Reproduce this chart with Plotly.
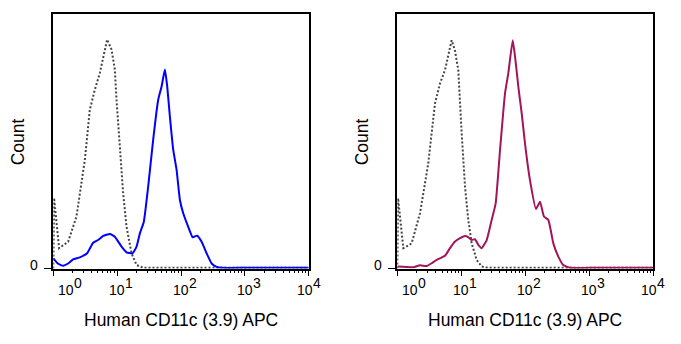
import numpy as np
import plotly.graph_objects as go

# ---- data (x as log10 fluorescence, y as % of max count scale) ----
iso_l_log = [0.0, 0.012, 0.091, 0.232, 0.363, 0.494, 0.572, 0.650, 0.729, 0.781, 0.843,
             0.912, 0.964, 0.990, 1.042, 1.094, 1.147, 1.225, 1.304, 1.408, 2.0, 3.0, 4.0]
iso_l_y = [0.0, 27.7, 8.0, 10.5, 20.4, 42.6, 62.3, 70.1, 76.7, 83.2, 89.8,
           85.9, 78.0, 66.2, 46.6, 29.6, 16.4, 6.0, 1.4, 0.3, 0.3, 0.3, 0.3]

blue_log = [0.0, 0.07, 0.154, 0.232, 0.31, 0.415, 0.53, 0.624, 0.702, 0.781, 0.886, 0.964,
            1.069, 1.147, 1.241, 1.304, 1.356, 1.418, 1.486, 1.564, 1.643, 1.696, 1.748,
            1.784, 1.826, 1.878, 1.931, 1.983, 2.035, 2.113, 2.182, 2.254, 2.323, 2.401,
            2.48, 2.558, 2.65, 3.0, 4.0]
blue_y = [4.0, 2.0, 1.1, 2.0, 3.6, 4.4, 6.0, 10.1, 11.2, 12.8, 13.6, 12.5,
          8.6, 6.4, 6.0, 8.6, 13.8, 18.4, 32.1, 50.5, 66.2, 71.4, 78.0,
          71.4, 59.6, 46.6, 38.7, 26.9, 21.7, 16.4, 12.3, 12.9, 10.5, 6.0,
          2.0, 0.7, 0.3, 0.3, 0.3]

iso_r_log = [0.0, 0.012, 0.094, 0.224, 0.355, 0.484, 0.589, 0.667, 0.745, 0.849, 0.900,
             0.953, 1.006, 1.058, 1.109, 1.162, 1.240, 1.319, 1.42, 2.0, 3.0, 4.0]
iso_r_y = [0.0, 27.6, 8.0, 9.9, 21.7, 41.3, 64.8, 72.6, 77.8, 89.5, 85.6,
           77.8, 53.0, 32.1, 19.1, 9.9, 3.4, 0.8, 0.3, 0.3, 0.3, 0.3]

crim_log = [0.0, 0.25, 0.355, 0.459, 0.537, 0.615, 0.745, 0.823, 0.902, 0.98, 1.058, 1.109,
            1.162, 1.214, 1.266, 1.319, 1.397, 1.475, 1.537, 1.605, 1.683, 1.734, 1.803,
            1.839, 1.891, 1.944, 1.995, 2.073, 2.167, 2.23, 2.292, 2.36, 2.438, 2.516,
            2.594, 2.7, 3.0, 4.0]
crim_y = [0.8, 0.5, 1.3, 1.0, 2.1, 3.4, 5.0, 8.0, 10.6, 11.9, 12.8, 12.3,
          11.2, 11.5, 9.3, 8.0, 11.2, 19.1, 25.6, 46.5, 68.7, 76.5, 89.5,
          83.3, 71.3, 60.8, 49.1, 34.7, 23.4, 26.2, 20.4, 19.1, 9.9, 4.7,
          1.4, 0.3, 0.3, 0.3]

decades = [0, 1, 2, 3, 4]
x_title = "Human CD11c (3.9) APC"
y_title = "Count"

FONT = "Liberation Sans, Arial, sans-serif"
ISO_COLOR = "#444444"
BLUE = "#0000ff"
CRIMSON = "#a3145a"

fig = go.Figure()

def lin(v):
    return list(np.power(10.0, np.array(v)))

fig.add_trace(go.Scatter(x=lin(iso_l_log), y=iso_l_y, mode="lines", xaxis="x", yaxis="y",
                         line=dict(color=ISO_COLOR, width=2, dash="2px,2px"), showlegend=False))
fig.add_trace(go.Scatter(x=lin(blue_log), y=blue_y, mode="lines", xaxis="x", yaxis="y",
                         line=dict(color=BLUE, width=2, shape="spline", smoothing=0.4), showlegend=False))
fig.add_trace(go.Scatter(x=lin(iso_r_log), y=iso_r_y, mode="lines", xaxis="x2", yaxis="y2",
                         line=dict(color=ISO_COLOR, width=2, dash="2px,2px"), showlegend=False))
fig.add_trace(go.Scatter(x=lin(crim_log), y=crim_y, mode="lines", xaxis="x2", yaxis="y2",
                         line=dict(color=CRIMSON, width=2, shape="spline", smoothing=0.4), showlegend=False))

minor_vals = [m * 10 ** k for k in range(0, 4) for m in range(2, 10)]

xdom = {"x": [53.3 / 681, 308.7 / 681], "x2": [397.3 / 681, 653.3 / 681]}
ydom = [(344 - 268.6) / 344, (344 - 13.5) / 344]

def xaxis(dom, anchor):
    return dict(domain=dom, anchor=anchor, type="log", range=[0, 4],
                showline=True, mirror=True, linecolor="black", linewidth=1.5,
                showgrid=False, zeroline=False, ticks="outside", ticklen=6, tickwidth=1,
                tickcolor="black", tickvals=[10 ** d for d in decades], showticklabels=False,
                minor=dict(tickmode="array", tickvals=minor_vals, ticks="outside",
                           ticklen=3, tickwidth=1, tickcolor="black"))

def yaxis(anchor):
    return dict(domain=ydom, anchor=anchor, range=[0, 100], showline=True, mirror=True,
                linecolor="black", linewidth=1.5, showgrid=False, zeroline=False,
                ticks="outside", ticklen=8, tickwidth=1, tickcolor="black",
                tickvals=[0], showticklabels=False)

ann = []
for xr, yr in (("x", "y"), ("x2", "y2")):
    dom = xdom[xr]
    for d in decades:
        shift = 13 if d == 0 else (-4 if d == 4 else 0)
        ann.append(dict(xref=xr, yref="paper", x=d, y=(344 - 290) / 344, yanchor="middle",
                        xanchor="center", xshift=shift, text="10", showarrow=False,
                        font=dict(family=FONT, size=14, color="black")))
        ann.append(dict(xref=xr, yref="paper", x=d, y=(344 - 283) / 344, yanchor="middle",
                        xanchor="center", xshift=shift + 12, text=str(d), showarrow=False,
                        font=dict(family=FONT, size=14, color="black")))
    # zero label
    ann.append(dict(xref="paper", yref="paper", x=dom[0] - 13 / 681, y=(344 - 265) / 344,
                    xanchor="right", yanchor="middle", text="0", showarrow=False,
                    font=dict(family=FONT, size=14, color="black")))
    # x title
    ann.append(dict(xref="paper", yref="paper", x=(dom[0] + dom[1]) / 2, y=(344 - 320) / 344,
                    xanchor="center", yanchor="middle", text=x_title, showarrow=False,
                    font=dict(family=FONT, size=17.5, color="black")))
    # y title
    ann.append(dict(xref="paper", yref="paper", x=dom[0] - 35 / 681, y=(344 - 142) / 344,
                    xanchor="center", yanchor="middle", text=y_title, textangle=-90,
                    showarrow=False, font=dict(family=FONT, size=17.5, color="black")))

fig.update_layout(
    width=681, height=344, margin=dict(l=0, r=0, t=0, b=0),
    paper_bgcolor="white", plot_bgcolor="white",
    xaxis=xaxis(xdom["x"], "y"), yaxis=yaxis("x"),
    xaxis2=xaxis(xdom["x2"], "y2"), yaxis2=yaxis("x2"),
    annotations=ann, showlegend=False,
)

fig.write_html("out.html")
